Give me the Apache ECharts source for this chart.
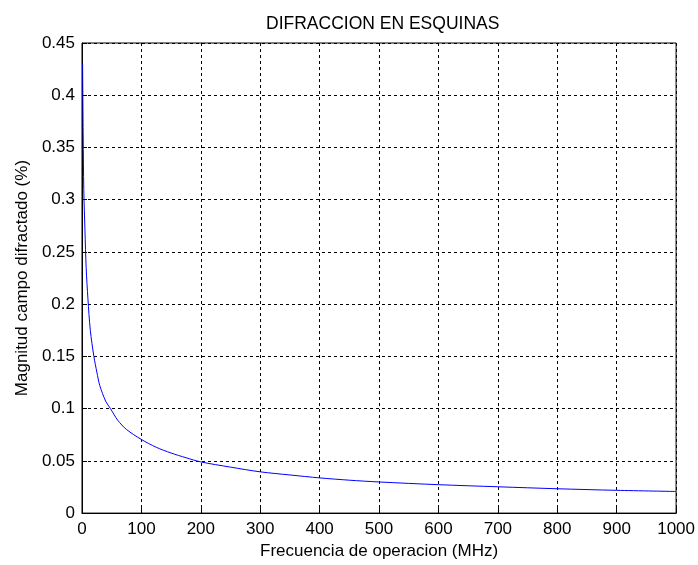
<!DOCTYPE html>
<html>
<head>
<meta charset="utf-8">
<script src="https://cdn.jsdelivr.net/npm/echarts@6/dist/echarts.min.js"></script>
<style>
html,body{margin:0;padding:0;background:#fff;}
#c{width:698px;height:565px;}
</style>
</head>
<body>
<div id="c"></div>
<script>
var titleText = 'DIFRACCION EN ESQUINAS';
var xLabel = 'Frecuencia de operacion (MHz)';
var yLabel = 'Magnitud campo difractado (%)';
var frecuencia = [1, 2, 3, 5, 7, 10, 14, 20, 25, 30, 40, 48, 60, 75, 100, 125, 150, 175, 200, 250, 300, 350, 400, 450, 500, 600, 700, 800, 900, 1000];
var magnitud = [0.43, 0.36, 0.31, 0.27, 0.235, 0.205, 0.175, 0.15, 0.135, 0.122, 0.107, 0.1, 0.089, 0.08, 0.0705, 0.063, 0.0575, 0.053, 0.049, 0.044, 0.0395, 0.0365, 0.0337, 0.0315, 0.0298, 0.0272, 0.0252, 0.0233, 0.0218, 0.0207];

var data = frecuencia.map(function (f, i) { return [f, magnitud[i]]; });
var chart = echarts.init(document.getElementById('c'), null, {renderer: 'canvas'});
var font = 'Liberation Sans, Arial, sans-serif';
var fs = 17;
chart.setOption({
  backgroundColor: '#ffffff',
  animation: false,
  title: {
    text: titleText, left: 261, top: 10,
    textStyle: {fontFamily: font, fontSize: 17.5, fontWeight: 'normal', color: '#000'}
  },
  grid: {left: 82, right: 19, top: 43, bottom: 51, show: true, borderColor: '#000', borderWidth: 1, backgroundColor: '#fff'},
  xAxis: {
    type: 'value', min: 0, max: 1000, interval: 100,
    name: xLabel, nameLocation: 'middle', nameGap: 29,
    nameTextStyle: {fontFamily: font, fontSize: fs, color: '#000'},
    axisLine: {show: true, onZero: false, lineStyle: {color: '#000', width: 1}},
    axisTick: {show: true, inside: true, length: 5, lineStyle: {color: '#000'}},
    axisLabel: {fontFamily: font, fontSize: fs, color: '#000', margin: 8, formatter: function (v) { return String(v); }},
    splitLine: {show: true, lineStyle: {color: '#000', type: [3, 3], width: 1}}
  },
  yAxis: {
    type: 'value', min: 0, max: 0.45, interval: 0.05,
    name: yLabel, nameLocation: 'middle', nameGap: 50,
    nameTextStyle: {fontFamily: font, fontSize: fs, color: '#000'},
    axisLine: {show: true, onZero: false, lineStyle: {color: '#000', width: 1}},
    axisTick: {show: true, inside: true, length: 5, lineStyle: {color: '#000'}},
    axisLabel: {fontFamily: font, fontSize: fs, color: '#000', margin: 7},
    splitLine: {show: true, lineStyle: {color: '#000', type: [3, 3], width: 1}}
  },
  series: [{
    type: 'line', data: data, showSymbol: false, smooth: 0.3,
    lineStyle: {color: '#0000ff', width: 1}, itemStyle: {color: '#0000ff'}
  }]
});
</script>
</body>
</html>
